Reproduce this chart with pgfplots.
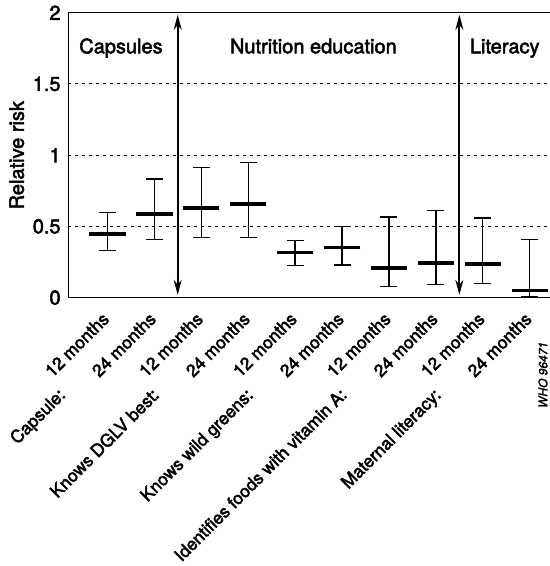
\documentclass[border=0pt]{standalone}
\usepackage{fontspec}
\setmainfont{TeX Gyre Heros}[UprightFeatures={FakeBold=2.5},ItalicFeatures={FakeBold=2}]
\usepackage{pgfplots}
\pgfplotsset{compat=1.18}
\usepackage{pgfplotstable}
\usetikzlibrary{arrows.meta}

\pgfplotstableread{
x y lo hi
0 0.446 0.329 0.599
1 0.589 0.411 0.833
2 0.629 0.420 0.911
3 0.657 0.423 0.946
4 0.317 0.228 0.404
5 0.352 0.230 0.498
6 0.207 0.077 0.566
7 0.242 0.094 0.610
8 0.237 0.099 0.559
9 0.049 0.005 0.406
}\riskdata

\newcommand\grp[1]{\llap{\smash{\raisebox{-22.6bp}{#1\hspace{3bp}}}}}

\begin{document}
\fontsize{20bp}{24bp}\selectfont
\begin{tikzpicture}
\begin{axis}[
  scale only axis, width=481.7bp, height=285bp,
  xmin=-0.83, xmax=9.43, ymin=0, ymax=2,
  axis x line*=bottom, axis y line*=left,
  axis line style={line width=1.3bp, black},
  clip=false,
  major tick length=0pt,
  xtick={0,1,2,3,4,5,6,7,8,9},
  xticklabels={{\grp{Capsule:}12 months},24 months,
               {\grp{Knows DGLV best:}12 months},24 months,
               {\grp{Knows wild greens:}12 months},24 months,
               {\grp{Identifies foods with vitamin A:}12 months},24 months,
               {\grp{Maternal literacy:}12 months},24 months},
  xticklabel style={xshift=3bp, yshift=-22.5bp, rotate=45, anchor=base east, inner sep=0pt,
                    font=\fontsize{17.5bp}{21bp}\selectfont},
  ytick={0,0.5,1,1.5,2},
  yticklabels={0,0.5,1,1.5,2},
  yticklabel style={anchor=east, inner sep=0pt, xshift=-7.5bp,
                    font=\fontsize{20bp}{24bp}\selectfont},
  ymajorgrids,
  grid style={black, line width=0.9bp, dash pattern=on 2.5bp off 4.5bp},
  ylabel={Relative risk},
  every axis y label/.style={at={(rel axis cs:0,0.5)}, xshift=-51.6bp, rotate=90,
                             anchor=center, inner sep=0pt,
                             font=\fontsize{20bp}{24bp}\selectfont},
]
\addplot[draw=none, mark=none, forget plot,
  error bars/.cd, y dir=both, y explicit, error mark=none,
  error bar style={line width=1.2bp, black}]
  table[x=x, y=y, y error plus expr=\thisrow{hi}-\thisrow{y},
        y error minus expr=\thisrow{y}-\thisrow{lo}]{\riskdata};
\addplot[black, only marks, mark=-, mark size=8.5bp, mark options={line width=1.2bp}]
  table[x=x, y=hi]{\riskdata};
\addplot[black, only marks, mark=-, mark size=8.5bp, mark options={line width=1.2bp}]
  table[x=x, y=lo]{\riskdata};
\addplot[black, only marks, mark=-, mark size=18.3bp, mark options={line width=3.5bp}]
  table[x=x, y=y]{\riskdata};

\draw[line width=1.3bp] (rel axis cs:0,1) -- (rel axis cs:1,1);
\draw[line width=1.8bp, {Stealth[length=15bp,width=8bp]}-{Stealth[length=15bp,width=8bp]}]
  (axis cs:1.5,0.02) -- (axis cs:1.5,1.985);
\draw[line width=1.8bp, {Stealth[length=15bp,width=8bp]}-{Stealth[length=15bp,width=8bp]}]
  (axis cs:7.5,0.02) -- (axis cs:7.5,1.985);

\node[anchor=base west, inner sep=0pt] at (axis cs:-0.60,1.715) {Capsules};
\node[anchor=base west, inner sep=0pt] at (axis cs:2.61,1.715) {Nutrition education};
\node[anchor=base west, inner sep=0pt] at (axis cs:7.72,1.715) {Literacy};
\node[rotate=90, inner sep=0pt, font=\fontsize{12bp}{14bp}\selectfont\itshape]
  at (axis cs:9.28,-0.542) {WHO 96471};

\coordinate (SW) at (rel axis cs:0,0);
\coordinate (NE) at (rel axis cs:1,1);
\end{axis}
\pgfresetboundingbox
\path[use as bounding box] ([shift={(-68.3bp,-268.3bp)}]SW) rectangle ([shift={(0bp,12.7bp)}]NE);
\end{tikzpicture}
\end{document}
